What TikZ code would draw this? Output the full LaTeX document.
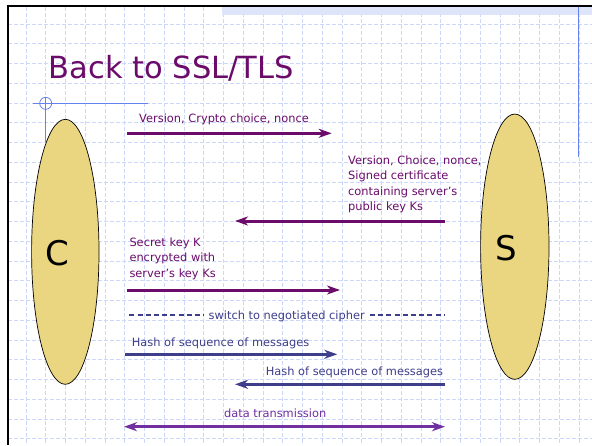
\documentclass[tikz,border=0pt]{standalone}
\usepackage{fontspec}
\setmainfont{DejaVu Sans}
\usetikzlibrary{arrows.meta,shapes.geometric}

\definecolor{plum}{RGB}{107,12,107}
\definecolor{navy}{RGB}{62,62,138}
\definecolor{violetline}{RGB}{112,48,160}
\definecolor{gridblue}{RGB}{205,215,250}
\definecolor{guideblue}{RGB}{100,130,240}
\definecolor{bandblue}{RGB}{222,229,250}
\definecolor{partyfill}{RGB}{234,214,128}

\tikzset{
  gridline/.style={draw=gridblue, line width=0.9pt, dash pattern=on 4pt off 2pt},
  guide/.style={draw=guideblue, line width=0.8pt},
  party/.style={ellipse, draw=black, line width=0.7pt, fill=partyfill,
                inner sep=0pt, outer sep=0pt},
  partylabel/.style={inner sep=0pt, font=\fontsize{34}{34}\selectfont},
  lbl/.style={inner sep=0pt, font=\fontsize{11.4}{15.5}\selectfont},
  msg/.style={line width=3pt, -{Stealth[length=13pt,width=9pt,inset=4pt]}},
  bothways/.style={line width=3pt, {Stealth[length=13pt,width=9pt,inset=4pt]}-{Stealth[length=13pt,width=9pt,inset=4pt]}},
  switchline/.style={draw=navy, line width=1.2pt, dash pattern=on 5pt off 3.2pt}
}

\begin{document}
\begin{tikzpicture}[x=1pt,y=-1pt]
\useasboundingbox (0,0) rectangle (592,445);
\fill[white] (0,0) rectangle (592,445);

% background grid
\foreach \i in {0,...,28}
  \draw[gridline] ({25.95+19.75*\i},7) -- ({25.95+19.75*\i},445);
\foreach \j in {0,...,21}
  \draw[gridline] (8,{24+19.75*\j}) -- (592,{24+19.75*\j});

% top band and frame
\fill[bandblue] (222,7) rectangle (592,14.5);
\draw[black, line width=2.3pt] (7,6) -- (592,6);
\draw[black, line width=2.5pt] (8,5) -- (8,445);

% guide marks
\draw[guide] (578.3,7) -- (578.3,157);
\draw[guide] (33,103.3) -- (148,103.3);
\draw[guide] (45.7,103.3) circle (6);
\draw[guide] (45.7,97) -- (45.7,142);

% title
\node[anchor=base west, inner sep=0pt, text=plum, font=\fontsize{30.5}{30.5}\selectfont]
  (title) at (48.7,78.3) {Back to SSL/TLS};

% client and server
\node[party, minimum width=67.4pt, minimum height=265pt] (client) at (65.3,251.8) {};
\node[partylabel] (clabel) at (57.5,253) {C};
\node[party, minimum width=68.4pt, minimum height=265.3pt] (server) at (514.8,246.7) {};
\node[partylabel] (slabel) at (506.3,248.3) {S};

% message 1
\node[lbl, text=plum, anchor=base west] (t1) at (139,122.5) {Version, Crypto choice, nonce};
\coordinate (m1a) at (127.3,133.3);
\coordinate (m1b) at (331.7,133.3);
\draw[msg, plum] (m1a) -- (m1b);

% message 2 (base anchor sits on the last line)
\node[lbl, text=plum, anchor=base west, align=left] (t2) at (348,210.5)
  {Version, Choice, nonce,\\Signed certificate\\containing server's\\public key Ks};
\coordinate (m2a) at (445,221);
\coordinate (m2b) at (235,221);
\draw[msg, plum] (m2a) -- (m2b);

% message 3
\node[lbl, text=plum, anchor=base west, align=left] (t3) at (129.3,277.3)
  {Secret key K\\encrypted with\\server's key Ks};
\coordinate (m3a) at (127.3,290);
\coordinate (m3b) at (340,290);
\draw[msg, plum] (m3a) -- (m3b);

% cipher switch
\node[lbl, text=navy, anchor=base, inner xsep=5pt] (sw) at (286.7,319.3) {switch to negotiated cipher};
\coordinate (swa) at (129.3,315);
\coordinate (swb) at (445,315);
\draw[switchline] (swa) -- (swa -| sw.west);
\draw[switchline] (sw.east |- swb) -- (swb);

% finished messages
\node[lbl, text=navy, anchor=base west] (h1t) at (131.7,346.7) {Hash of sequence of messages};
\coordinate (h1a) at (125,354.3);
\coordinate (h1b) at (337.3,354.3);
\draw[msg, navy] (h1a) -- (h1b);

\node[lbl, text=navy, anchor=base east] (h2t) at (443.3,375.7) {Hash of sequence of messages};
\coordinate (h2a) at (445,384.3);
\coordinate (h2b) at (235,384.3);
\draw[msg, navy] (h2a) -- (h2b);

% data
\node[lbl, text=violetline, anchor=base] (dt) at (275.2,417.3) {data transmission};
\coordinate (da) at (124,426.7);
\coordinate (db) at (445,426.7);
\draw[bothways, violetline] (da) -- (db);
\end{tikzpicture}
\end{document}
